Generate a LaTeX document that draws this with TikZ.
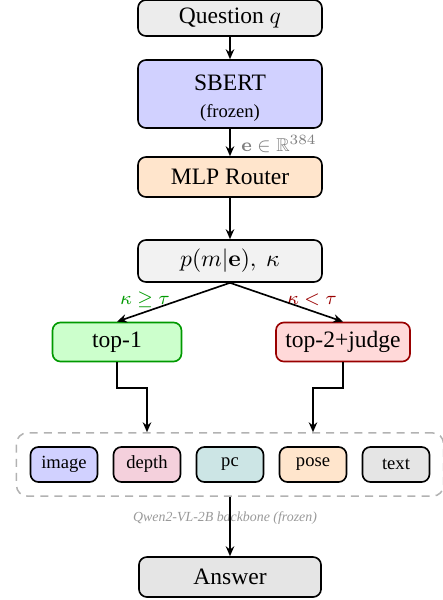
\documentclass[tikz,border=0pt]{standalone}
\usepackage{amsmath,amssymb}
\usepackage[no-math]{fontspec}
\setmainfont{Liberation Serif}
\usetikzlibrary{arrows.meta}
\definecolor{depthc}{RGB}{244,208,220}
\begin{document}
\begin{tikzpicture}[x=0.425pt,y=-0.425pt,
  box/.style={draw=black,line width=0.7pt,rounded corners=3.4pt,inner sep=0pt,
    minimum width=78.2pt,minimum height=17pt,font=\fontsize{10}{12}\selectfont},
  modbox/.style={draw=black,line width=0.7pt,rounded corners=3.4pt,inner sep=0pt,
    minimum width=28.5pt,minimum height=14.9pt,font=\fontsize{7.9}{9}\selectfont},
  arr/.style={line width=0.7pt,-{Stealth[length=4.2pt,width=3.6pt]}},
  conn/.style={line width=0.7pt}]
\useasboundingbox (0,0) rectangle (443,600);
\node[box,fill=gray!15,minimum height=15.3pt] (q) at (230,18) {Question $q$};
\node[box,fill=blue!18,minimum height=28.9pt,align=center] (sbert) at (230,94)
  {\rule{0pt}{10pt}SBERT\\[-0.7pt]{\fontsize{7.9}{9}\selectfont (frozen)}};
\node[box,fill=orange!20] (mlp) at (230,177) {MLP Router};
\node[box,fill=gray!10,minimum height=17.85pt] (p) at (230,261) {$p(m|\mathbf{e}),\ \kappa$};
\node[box,fill=green!20,draw=green!60!black,minimum width=54.8pt,minimum height=16.6pt] (t1) at (117,342) {top-1};
\node[box,fill=red!15,draw=red!60!black,minimum width=57pt,minimum height=16.6pt] (t2) at (343,342) {top-2+judge};
\node[draw=gray!60,dashed,dash pattern=on 3.4pt off 2.6pt,line width=0.65pt,rounded corners=4.5pt,
  inner sep=0pt,minimum width=181.5pt,minimum height=26.8pt] (bb) at (230,464.5) {};
\node[modbox,fill=blue!18] (m1) at (64,464.5) {image};
\node[modbox,fill=depthc] (m2) at (147,464.5) {depth};
\node[modbox,fill=teal!20] (m3) at (230,464.5) {pc};
\node[modbox,fill=orange!20] (m4) at (313,464.5) {pose};
\node[modbox,fill=gray!20] (m5) at (396,464.5) {text};
\node[text=gray!80,font=\fontsize{5.9}{7}\selectfont\itshape] (ql) at (225,518) {Qwen2-VL-2B backbone (frozen)};
\node[box,fill=gray!20,minimum width=77.4pt] (ans) at (230,577) {Answer};
\node[text=gray,font=\fontsize{7.9}{9}\selectfont] (el) at (279,144) {$\mathbf{e}\in\mathbb{R}^{384}$};
\node[text=green!60!black,font=\fontsize{7.9}{9}\selectfont] (lg) at (145,300) {$\kappa\geq\tau$};
\node[text=red!60!black,font=\fontsize{7.9}{9}\selectfont] (lr) at (312,300) {$\kappa<\tau$};
\coordinate (a1) at (117,388);
\coordinate (a2) at (147,388);
\coordinate (b1) at (343,388);
\coordinate (b2) at (313,388);
\draw[arr] (q) -- (sbert);
\draw[arr] (sbert) -- (mlp);
\draw[arr] (mlp) -- (p);
\draw[arr] (p.south) -- (t1.north);
\draw[arr] (p.south) -- (t2.north);
\draw[arr] (t1.south) -- (a1) -- (a2) -- (a2 |- bb.north);
\draw[arr] (t2.south) -- (b1) -- (b2) -- (b2 |- bb.north);
\draw[arr] (bb.south) -- (ans.north);
\end{tikzpicture}
\end{document}
